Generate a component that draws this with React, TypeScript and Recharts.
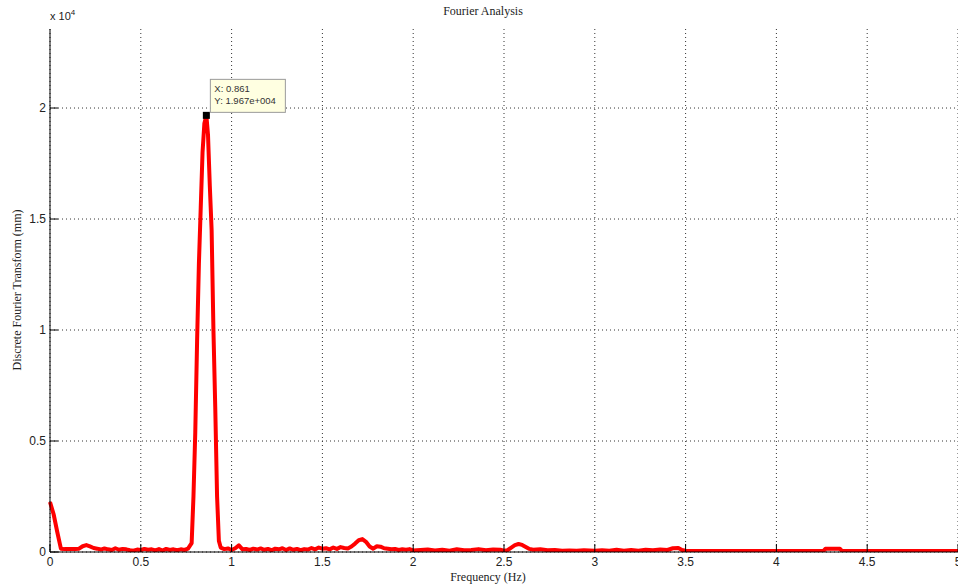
import React from "react";
import {
  LineChart, Line, XAxis, YAxis, CartesianGrid, ReferenceDot,
} from "recharts";

// frequency (Hz) and DFT magnitude
const FREQ = [
  0, 0.02, 0.04, 0.06, 0.08, 0.1, 0.12, 0.14, 0.16, 0.18, 0.2, 0.22, 0.24, 0.26, 0.28, 0.3,
  0.32, 0.34, 0.36, 0.38, 0.4, 0.42, 0.44, 0.46, 0.48, 0.5, 0.52, 0.54, 0.56, 0.58, 0.6,
  0.62, 0.64, 0.66, 0.68, 0.7, 0.72, 0.74, 0.76, 0.78,
  0.79, 0.8, 0.81, 0.82, 0.83, 0.84, 0.85, 0.861, 0.87, 0.88, 0.89, 0.9, 0.91, 0.92, 0.93,
  0.94, 0.96, 0.98, 1.0, 1.02, 1.04, 1.06, 1.08, 1.1, 1.12, 1.14, 1.16, 1.18, 1.2, 1.22,
  1.24, 1.26, 1.28, 1.3, 1.32, 1.34, 1.36, 1.38, 1.4, 1.42, 1.44, 1.46, 1.48, 1.5, 1.52,
  1.54, 1.56, 1.58, 1.6, 1.62, 1.64, 1.66, 1.68, 1.7, 1.72, 1.74, 1.76, 1.78, 1.8, 1.82,
  1.84, 1.86, 1.88, 1.9, 1.92, 1.94, 1.96, 1.98, 2.0, 2.04, 2.08, 2.12, 2.16, 2.2, 2.24,
  2.28, 2.32, 2.36, 2.4, 2.44, 2.48, 2.5, 2.52, 2.54, 2.56, 2.58, 2.6, 2.62, 2.64, 2.66,
  2.7, 2.74, 2.78, 2.82, 2.86, 2.9, 2.94, 3.0, 3.04, 3.08, 3.12, 3.16, 3.2, 3.24, 3.28,
  3.32, 3.36, 3.4, 3.43, 3.46, 3.48, 3.5, 3.6, 3.7, 3.8, 3.9, 4.0, 4.1, 4.2, 4.26, 4.27,
  4.35, 4.36, 4.5, 4.7, 5.0,
];
const DFT = [
  2250, 1700, 900, 150, 130, 140, 130, 140, 150, 260, 310, 250, 180, 150, 110, 160,
  120, 90, 170, 100, 140, 120, 80, 60, 110, 90, 140, 100, 120, 70, 130,
  60, 140, 90, 120, 80, 120, 90, 150, 400,
  2500, 5400, 9500, 13000, 15500, 18000, 19300, 19670, 18800, 16500, 14500, 10000, 6500, 2500, 500,
  200, 130, 160, 90, 170, 300, 120, 140, 90, 150, 110, 160, 100, 140, 80,
  150, 120, 170, 90, 160, 100, 140, 80, 130, 110, 180, 120, 200, 150, 170,
  120, 200, 140, 220, 180, 160, 250, 380, 530, 580, 460, 250, 150, 260, 240,
  170, 150, 120, 140, 90, 120, 100, 130, 70, 90, 110, 70, 100, 60, 120,
  80, 90, 130, 80, 110, 100, 60, 80, 200, 310, 360, 320, 230, 140, 100,
  120, 80, 90, 60, 70, 60, 80, 60, 80, 60, 100, 60, 90, 60, 100,
  80, 110, 90, 170, 180, 90, 60, 50, 50, 50, 50, 50, 50, 50, 50, 150,
  150, 50, 50, 50, 50,
];
const X_TICKS = [0, 0.5, 1, 1.5, 2, 2.5, 3, 3.5, 4, 4.5, 5];
const Y_TICKS = [0, 5000, 10000, 15000, 20000];
const PEAK = { f: 0.861, v: 19670 };

const data = FREQ.map((f, i) => ({ f, v: DFT[i] }));

const sans = "'Liberation Sans', Arial, sans-serif";
const serif = "'Liberation Serif', 'Times New Roman', serif";

const BottomTick = ({ x, y, payload }: any) => (
  <g>
    <line x1={x} y1={y} x2={x} y2={y - 8} stroke="#000" />
    <text x={x} y={y + 14} textAnchor="middle" fontSize={12} fontFamily={sans} fill="#222">
      {payload.value}
    </text>
  </g>
);

const TopTick = ({ x, y }: any) => (
  <line x1={x} y1={y} x2={x} y2={y + 7} stroke="#000" />
);

const LeftTick = ({ x, y, payload }: any) => (
  <g>
    <line x1={x} y1={y} x2={x + 8} y2={y} stroke="#000" />
    <text x={x - 4} y={y + 4} textAnchor="end" fontSize={12} fontFamily={sans} fill="#222">
      {payload.value / 10000}
    </text>
  </g>
);

const DataTip = ({ cx, cy }: any) => (
  <g>
    <rect x={cx - 3.5} y={cy - 3.5} width={7} height={7} fill="#000" />
    <rect x={cx + 4} y={cy - 36} width={75} height={33} fill="#ffffe1" stroke="#9a9a9a" />
    <text x={cx + 8} y={cy - 23} fontSize={9.5} fontFamily={sans} fill="#333">
      X: {PEAK.f}
    </text>
    <text x={cx + 8} y={cy - 11} fontSize={9.5} fontFamily={sans} fill="#333">
      Y: 1.967e+004
    </text>
  </g>
);

export default function App() {
  return (
    <div style={{ position: "absolute", left: 0, top: 0, width: 958, height: 588, background: "#fff", overflow: "hidden" }}>
      <div style={{ position: "absolute", left: 0, width: 966, top: 4, textAlign: "center", fontFamily: serif, fontSize: 12, color: "#222" }}>
        Fourier Analysis
      </div>
      <div style={{ position: "absolute", left: 50, top: 8, fontFamily: sans, fontSize: 11, color: "#222" }}>
        x 10<sup style={{ fontSize: 8, verticalAlign: 5 }}>4</sup>
      </div>
      <div style={{ position: "absolute", left: 0, width: 976, top: 570, textAlign: "center", fontFamily: serif, fontSize: 12, color: "#222" }}>
        Frequency (Hz)
      </div>
      <div style={{
        position: "absolute", left: 17, top: 290, transform: "translate(-50%, -50%) rotate(-90deg)",
        whiteSpace: "nowrap", fontFamily: serif, fontSize: 12, color: "#222",
      }}>
        Discrete Fourier Transform (mm)
      </div>
      <LineChart width={958} height={588} data={data} margin={{ top: 29, right: 0, left: 0, bottom: 0 }} style={{ position: "absolute", left: 0, top: 0 }}>
        <CartesianGrid stroke="#333" strokeDasharray="1 3" verticalValues={X_TICKS} horizontalValues={Y_TICKS} />
        <XAxis
          dataKey="f" type="number" domain={[0, 5]} ticks={X_TICKS} height={36}
          tickSize={0} tickMargin={0} tick={<BottomTick />} axisLine={{ stroke: "#000" }} interval={0}
        />
        <XAxis
          xAxisId="top" orientation="top" dataKey="f" type="number" domain={[0, 5]} ticks={X_TICKS} height={0}
          tickSize={0} tickMargin={0} tick={<TopTick />} axisLine={{ stroke: "#8a8a8a" }} interval={0}
        />
        <YAxis
          type="number" domain={[0, 23560]} ticks={Y_TICKS} width={50} allowDataOverflow
          tickSize={0} tickMargin={0} tick={<LeftTick />} axisLine={{ stroke: "#000" }} interval={0}
        />
        <Line type="linear" dataKey="v" stroke="#ff0000" strokeWidth={4} dot={false} isAnimationActive={false} strokeLinejoin="round" />
        <ReferenceDot x={PEAK.f} y={PEAK.v} r={4} shape={<DataTip />} ifOverflow="visible" />
      </LineChart>
    </div>
  );
}
